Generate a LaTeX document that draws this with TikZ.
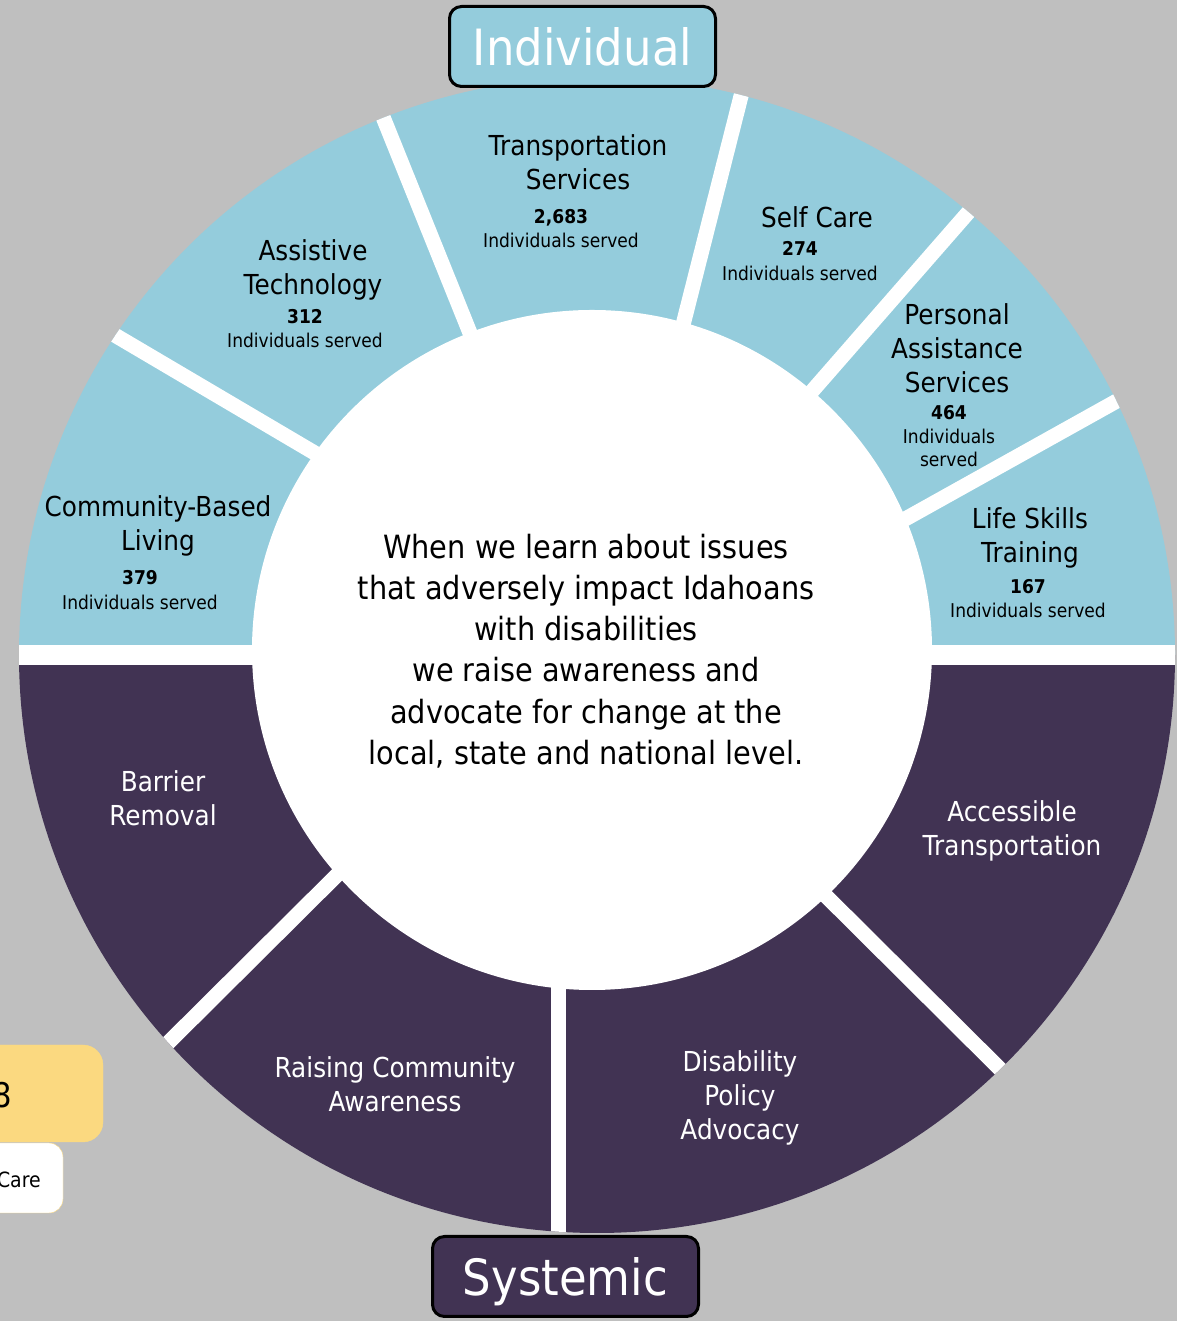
\documentclass[tikz,border=0pt]{standalone}
\usepackage{fontspec}
\setmainfont{DejaVu Sans}[FakeStretch=0.9]
\usetikzlibrary{calc,positioning}
\definecolor{bggray}{RGB}{191,191,191}
\definecolor{indblue}{RGB}{148,204,220}
\definecolor{sysplum}{RGB}{65,51,83}
\definecolor{noteyellow}{RGB}{251,217,128}

\begin{document}
\begin{tikzpicture}[
    x=1pt, y=1pt,
    gap/.style={white, line width=15pt},
    title/.style={align=center, inner sep=0pt, font=\fontsize{27.5}{34}\selectfont},
    systitle/.style={title, text=white},
    stat/.style={align=center, inner sep=0pt, font=\fontsize{19}{24.5}\selectfont},
    tag/.style={draw=black, line width=3pt, rounded corners=12pt, minimum width=266pt, minimum height=80pt, text=white, text depth=0pt, font=\fontsize{50}{60}\selectfont}
]
\useasboundingbox (0,0) rectangle (1177,1321);
\clip (0,0) rectangle (1177,1321);
\fill[bggray] (0,0) rectangle (1177,1321);

\coordinate (o) at (597,666);
\fill[indblue] ($(o)+(0:578)$) arc[start angle=0, end angle=180, radius=578] -- cycle;
\fill[sysplum] ($(o)+(180:578)$) arc[start angle=180, end angle=360, radius=578] -- cycle;

\begin{scope}
  \clip (o) circle (578);
  \draw[gap, line width=20pt] (0,666) -- (1177,666);
  \foreach \ax/\ay/\bx/\by in {313/869/118/984, 468/993/385/1199, 685/1004/740/1221,
      814/932/966/1106, 907/803/1115/919, 337/446/168/278, 558/333/558/87, 824/427/1002/250}
    \draw[gap] ($(\ax,\ay)!-0.5!(\bx,\by)$) -- ($(\bx,\by)!-0.2!(\ax,\ay)$);
\end{scope}

\node[circle, fill=white, minimum size=680pt, inner sep=0pt] (hub) at (592,671) {};
\node[align=center, inner sep=0pt, font=\fontsize{32}{41.3}\selectfont] (msg) at (586,670)
  {When we learn about issues\\that adversely impact Idahoans\\with disabilities\\we raise awareness and\\advocate for change at the\\local, state and national level.};

\node[title] (trans) at (578,1159) {Transportation\\Services};
\node[stat] (trans-n) at (561,1092.5) {\textbf{2,683}\\Individuals served};
\node[title] (self) at (817,1104) {Self Care};
\node[stat] (self-n) at (800,1060) {\textbf{274}\\Individuals served};
\node[title] (assist) at (313,1051) {Assistive\\Technology};
\node[stat] (assist-n) at (305,992.5) {\textbf{312}\\Individuals served};
\node[title] (pas) at (957,973) {Personal\\Assistance\\Services};
\node[stat, font=\fontsize{19}{23.5}\selectfont] (pas-n) at (949,884.5) {\textbf{464}\\Individuals\\served};
\node[title] (skills) at (1030,783) {Life Skills\\Training};
\node[stat] (skills-n) at (1028,722.5) {\textbf{167}\\Individuals served};
\node[title] (living) at (158,795) {Community-Based\\Living};
\node[stat] (living-n) at (140,731) {\textbf{379}\\Individuals served};

\node[systitle] (barrier) at (163,523) {Barrier\\Removal};
\node[systitle] (access) at (1012,490) {Accessible\\Transportation};
\node[systitle] (raising) at (395,237) {Raising Community\\Awareness};
\node[systitle] (policy) at (740,223) {Disability\\Policy\\Advocacy};

\node[tag, fill=indblue] (indiv) at (582.5,1274.5) {Individual};
\node[tag, fill=sysplum] (sys) at (565.5,44.5) {Systemic};

\draw[fill=noteyellow, draw=noteyellow, rounded corners=20pt] (-60,179) rectangle (103,276);
\draw[fill=white, draw=noteyellow, rounded corners=14pt] (-60,108) rectangle (63,178);
\node[anchor=base east, inner sep=0pt, font=\fontsize{34}{40}\selectfont] (eight) at (12,213) {8};
\node[anchor=base east, inner sep=0pt, font=\fontsize{21}{25}\selectfont] (care) at (41,133) {Care};
\end{tikzpicture}
\end{document}
